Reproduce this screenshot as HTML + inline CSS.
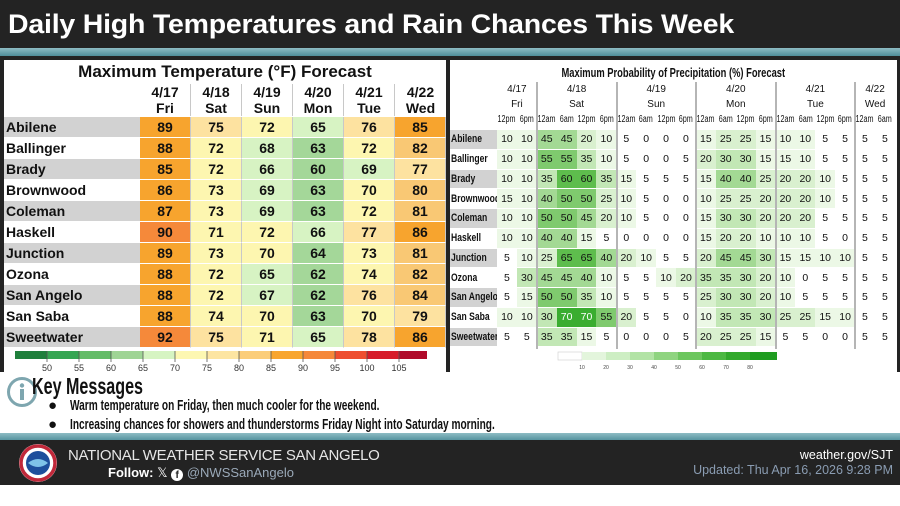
<!DOCTYPE html>
<html><head><meta charset="utf-8">
<style>
*{margin:0;padding:0;box-sizing:border-box}
body{width:900px;height:506px;overflow:hidden;background:#fff;font-family:"Liberation Sans",sans-serif;position:relative}
.abs{position:absolute}
.sx{display:inline-block;transform-origin:left center;white-space:nowrap}
#top{left:0;top:0;width:900px;height:372px;background:#232323}
#stripe1{left:0;top:48px;width:900px;height:8px;background:linear-gradient(#8dbcc4,#4f8e9a)}
#title{left:8px;top:9px;color:#fff;font-weight:bold;font-size:27px;white-space:nowrap;letter-spacing:-0.2px;transform:scaleX(1.055);transform-origin:left center}
.panel{background:#fff;top:60px;height:312px}
#lp{left:4px;width:442px}
#rp{left:450px;width:447px}
.lt{display:grid;grid-template-columns:136px repeat(6,51px);grid-auto-rows:21px;position:absolute;left:0;top:57px}
.lt div{display:flex;align-items:center;justify-content:center;font-weight:bold;font-size:14px;color:#111;border-right:1px solid #c8c8c8;border-bottom:1px solid #fff}
.lt div.nm{justify-content:flex-start;padding-left:2px;font-size:14px;border-right:none}
.g{background:#d2d2d2}
.t4{background:#a4d799}.t5{background:#d7f3c3}.t6{background:#fdf6b0}.t7{background:#fde2a0}.t8{background:#f9c874}.t9{background:#f7a42e}.t10{background:#f5893a}
.rt{display:grid;grid-template-columns:47px repeat(20,19.9px);grid-auto-rows:19.75px;position:absolute;left:0;top:70px}
.rt div{display:flex;align-items:center;justify-content:center;font-size:10.5px;color:#111;border-bottom:1px solid #fff;overflow:hidden}
.rt div.nm{justify-content:flex-start;padding-left:1px;font-weight:bold;font-size:11px}
.rt div.nm span{display:inline-block;transform:scaleX(0.78);transform-origin:left center;white-space:nowrap}
.p1{background:#ecf8e6}.p2{background:#d9f0cf}.p3{background:#c2e7b5}.p4{background:#a3d994}.p5{background:#7fca6e}.p6{background:#5ebd4d}.p7{background:#3aad30;color:#fff!important}
.sep{position:absolute;width:1.5px;background:#b5b5b5;top:22px;height:267px}
.tm div{display:flex;justify-content:center}
.tm span{display:inline-block;transform:scaleX(0.72);white-space:nowrap}
#bottom1{left:0;top:433px;width:900px;height:8px;background:linear-gradient(#8dbcc4,#4f8e9a)}
#foot{left:0;top:440px;width:900px;height:45px;background:#232323}
</style></head><body>
<div id="top" class="abs"></div>
<div id="stripe1" class="abs"></div>
<div id="title" class="abs">Daily High Temperatures and Rain Chances This Week</div>

<div id="lp" class="abs panel">
 <div class="abs" style="left:0;width:442px;top:2px;text-align:center;font-weight:bold;font-size:17px;color:#111">Maximum Temperature (°F) Forecast</div>
 <div class="abs" style="left:136px;top:24px;display:grid;grid-template-columns:repeat(6,51px);font-weight:bold;font-size:14px;text-align:center;line-height:16px;color:#111">
  <div style="border-right:1px solid #c8c8c8">4/17<br>Fri</div><div style="border-right:1px solid #c8c8c8">4/18<br>Sat</div><div style="border-right:1px solid #c8c8c8">4/19<br>Sun</div><div style="border-right:1px solid #c8c8c8">4/20<br>Mon</div><div style="border-right:1px solid #c8c8c8">4/21<br>Tue</div><div>4/22<br>Wed</div>
 </div>
 <div class="lt">
  <div class="nm g">Abilene</div><div class="t9">89</div><div class="t7">75</div><div class="t6">72</div><div class="t5">65</div><div class="t7">76</div><div class="t9">85</div>
  <div class="nm">Ballinger</div><div class="t9">88</div><div class="t6">72</div><div class="t5">68</div><div class="t4">63</div><div class="t6">72</div><div class="t8">82</div>
  <div class="nm g">Brady</div><div class="t9">85</div><div class="t6">72</div><div class="t5">66</div><div class="t4">60</div><div class="t5">69</div><div class="t7">77</div>
  <div class="nm">Brownwood</div><div class="t9">86</div><div class="t6">73</div><div class="t5">69</div><div class="t4">63</div><div class="t6">70</div><div class="t8">80</div>
  <div class="nm g">Coleman</div><div class="t9">87</div><div class="t6">73</div><div class="t5">69</div><div class="t4">63</div><div class="t6">72</div><div class="t8">81</div>
  <div class="nm">Haskell</div><div class="t10">90</div><div class="t6">71</div><div class="t6">72</div><div class="t5">66</div><div class="t7">77</div><div class="t9">86</div>
  <div class="nm g">Junction</div><div class="t9">89</div><div class="t6">73</div><div class="t6">70</div><div class="t4">64</div><div class="t6">73</div><div class="t8">81</div>
  <div class="nm">Ozona</div><div class="t9">88</div><div class="t6">72</div><div class="t5">65</div><div class="t4">62</div><div class="t6">74</div><div class="t8">82</div>
  <div class="nm g">San Angelo</div><div class="t9">88</div><div class="t6">72</div><div class="t5">67</div><div class="t4">62</div><div class="t7">76</div><div class="t8">84</div>
  <div class="nm">San Saba</div><div class="t9">88</div><div class="t6">74</div><div class="t6">70</div><div class="t4">63</div><div class="t6">70</div><div class="t7">79</div>
  <div class="nm g">Sweetwater</div><div class="t10">92</div><div class="t7">75</div><div class="t6">71</div><div class="t5">65</div><div class="t7">78</div><div class="t9">86</div>
 </div>
 <svg class="abs" style="left:0;top:288px" width="442" height="24">
  <g transform="translate(11,3)">
   <rect x="0" width="32" height="8" fill="#1f7f3c"/><rect x="32" width="32" height="8" fill="#35a552"/><rect x="64" width="32" height="8" fill="#64bc68"/><rect x="96" width="32" height="8" fill="#9fd495"/><rect x="128" width="32" height="8" fill="#d6f4c2"/><rect x="160" width="32" height="8" fill="#fdf7b2"/><rect x="192" width="32" height="8" fill="#fde5a2"/><rect x="224" width="32" height="8" fill="#fbcd7a"/><rect x="256" width="32" height="8" fill="#f8a52e"/><rect x="288" width="32" height="8" fill="#f5883a"/><rect x="320" width="32" height="8" fill="#ee4e30"/><rect x="352" width="32" height="8" fill="#d61c2a"/><rect x="384" width="28" height="8" fill="#b00a2a"/>
   <g stroke="#555" stroke-width="0.8"><line x1="32" y1="0" x2="32" y2="11"/><line x1="64" y1="0" x2="64" y2="11"/><line x1="96" y1="0" x2="96" y2="11"/><line x1="128" y1="0" x2="128" y2="11"/><line x1="160" y1="0" x2="160" y2="11"/><line x1="192" y1="0" x2="192" y2="11"/><line x1="224" y1="0" x2="224" y2="11"/><line x1="256" y1="0" x2="256" y2="11"/><line x1="288" y1="0" x2="288" y2="11"/><line x1="320" y1="0" x2="320" y2="11"/><line x1="352" y1="0" x2="352" y2="11"/><line x1="384" y1="0" x2="384" y2="11"/></g>
   <g font-size="9" fill="#333" text-anchor="middle"><text x="32" y="20">50</text><text x="64" y="20">55</text><text x="96" y="20">60</text><text x="128" y="20">65</text><text x="160" y="20">70</text><text x="192" y="20">75</text><text x="224" y="20">80</text><text x="256" y="20">85</text><text x="288" y="20">90</text><text x="320" y="20">95</text><text x="352" y="20">100</text><text x="384" y="20">105</text></g>
  </g>
 </svg>
</div>

<div id="rp" class="abs panel">
 <div class="abs" style="left:0;width:447px;top:4px;text-align:center;color:#111"><span style="display:inline-block;font-weight:bold;font-size:13px;transform:scaleX(0.72);white-space:nowrap">Maximum Probability of Precipitation (%) Forecast</span></div>
 <div class="abs" style="left:47px;top:22px;display:grid;grid-template-columns:39.8px 79.6px 79.6px 79.6px 79.6px 39.8px;font-size:10px;text-align:center;line-height:15px;color:#111">
  <div>4/17<br>Fri</div><div>4/18<br>Sat</div><div>4/19<br>Sun</div><div>4/20<br>Mon</div><div>4/21<br>Tue</div><div>4/22<br>Wed</div>
 </div>
 <div class="abs tm" style="left:47px;top:54px;display:grid;grid-template-columns:repeat(20,19.9px);font-size:10px;color:#111">
  <div><span>12pm</span></div><div><span>6pm</span></div><div><span>12am</span></div><div><span>6am</span></div><div><span>12pm</span></div><div><span>6pm</span></div><div><span>12am</span></div><div><span>6am</span></div><div><span>12pm</span></div><div><span>6pm</span></div><div><span>12am</span></div><div><span>6am</span></div><div><span>12pm</span></div><div><span>6pm</span></div><div><span>12am</span></div><div><span>6am</span></div><div><span>12pm</span></div><div><span>6pm</span></div><div><span>12am</span></div><div><span>6am</span></div>
 </div>
 <div class="rt">
  <div class="nm g"><span>Abilene</span></div><div class="p1">10</div><div class="p1">10</div><div class="p4">45</div><div class="p4">45</div><div class="p2">20</div><div class="p1">10</div><div>5</div><div>0</div><div>0</div><div>0</div><div class="p1">15</div><div class="p2">25</div><div class="p2">25</div><div class="p1">15</div><div class="p1">10</div><div class="p1">10</div><div>5</div><div>5</div><div>5</div><div>5</div>
  <div class="nm"><span>Ballinger</span></div><div class="p1">10</div><div class="p1">10</div><div class="p5">55</div><div class="p5">55</div><div class="p3">35</div><div class="p1">10</div><div>5</div><div>0</div><div>0</div><div>5</div><div class="p2">20</div><div class="p3">30</div><div class="p3">30</div><div class="p1">15</div><div class="p1">15</div><div class="p1">10</div><div>5</div><div>5</div><div>5</div><div>5</div>
  <div class="nm g"><span>Brady</span></div><div class="p1">10</div><div class="p1">10</div><div class="p3">35</div><div class="p6">60</div><div class="p6">60</div><div class="p3">35</div><div class="p1">15</div><div>5</div><div>5</div><div>5</div><div class="p1">15</div><div class="p4">40</div><div class="p4">40</div><div class="p2">25</div><div class="p2">20</div><div class="p2">20</div><div class="p1">10</div><div>5</div><div>5</div><div>5</div>
  <div class="nm"><span>Brownwood</span></div><div class="p1">15</div><div class="p1">10</div><div class="p4">40</div><div class="p5">50</div><div class="p5">50</div><div class="p2">25</div><div class="p1">10</div><div>5</div><div>0</div><div>0</div><div class="p1">10</div><div class="p2">25</div><div class="p2">25</div><div class="p2">20</div><div class="p2">20</div><div class="p2">20</div><div class="p1">10</div><div>5</div><div>5</div><div>5</div>
  <div class="nm g"><span>Coleman</span></div><div class="p1">10</div><div class="p1">10</div><div class="p5">50</div><div class="p5">50</div><div class="p4">45</div><div class="p2">20</div><div class="p1">10</div><div>5</div><div>0</div><div>0</div><div class="p1">15</div><div class="p3">30</div><div class="p3">30</div><div class="p2">20</div><div class="p2">20</div><div class="p2">20</div><div>5</div><div>5</div><div>5</div><div>5</div>
  <div class="nm"><span>Haskell</span></div><div class="p1">10</div><div class="p1">10</div><div class="p4">40</div><div class="p4">40</div><div class="p1">15</div><div>5</div><div>0</div><div>0</div><div>0</div><div>0</div><div class="p1">15</div><div class="p2">20</div><div class="p2">20</div><div class="p1">10</div><div class="p1">10</div><div class="p1">10</div><div>5</div><div>0</div><div>5</div><div>5</div>
  <div class="nm g"><span>Junction</span></div><div>5</div><div class="p1">10</div><div class="p2">25</div><div class="p6">65</div><div class="p6">65</div><div class="p4">40</div><div class="p2">20</div><div class="p1">10</div><div>5</div><div>5</div><div class="p2">20</div><div class="p4">45</div><div class="p4">45</div><div class="p3">30</div><div class="p1">15</div><div class="p1">15</div><div class="p1">10</div><div class="p1">10</div><div>5</div><div>5</div>
  <div class="nm"><span>Ozona</span></div><div>5</div><div class="p3">30</div><div class="p4">45</div><div class="p4">45</div><div class="p4">40</div><div class="p1">10</div><div>5</div><div>5</div><div class="p1">10</div><div class="p2">20</div><div class="p3">35</div><div class="p3">35</div><div class="p3">30</div><div class="p2">20</div><div class="p1">10</div><div>0</div><div>5</div><div>5</div><div>5</div><div>5</div>
  <div class="nm g"><span>San Angelo</span></div><div>5</div><div class="p1">15</div><div class="p5">50</div><div class="p5">50</div><div class="p3">35</div><div class="p1">10</div><div>5</div><div>5</div><div>5</div><div>5</div><div class="p2">25</div><div class="p3">30</div><div class="p3">30</div><div class="p2">20</div><div class="p1">10</div><div>5</div><div>5</div><div>5</div><div>5</div><div>5</div>
  <div class="nm"><span>San Saba</span></div><div class="p1">10</div><div class="p1">10</div><div class="p3">30</div><div class="p7">70</div><div class="p7">70</div><div class="p5">55</div><div class="p2">20</div><div>5</div><div>5</div><div>0</div><div class="p1">10</div><div class="p3">35</div><div class="p3">35</div><div class="p3">30</div><div class="p2">25</div><div class="p2">25</div><div class="p1">15</div><div class="p1">10</div><div>5</div><div>5</div>
  <div class="nm g"><span>Sweetwater</span></div><div>5</div><div>5</div><div class="p3">35</div><div class="p3">35</div><div class="p1">15</div><div>5</div><div>0</div><div>0</div><div>0</div><div>5</div><div class="p2">20</div><div class="p2">25</div><div class="p2">25</div><div class="p1">15</div><div>5</div><div>5</div><div>0</div><div>0</div><div>5</div><div>5</div>
 </div>
 <div class="sep" style="left:86px"></div><div class="sep" style="left:166px"></div><div class="sep" style="left:245px"></div><div class="sep" style="left:325px"></div><div class="sep" style="left:404px"></div>
 <svg class="abs" style="left:0;top:290px" width="447" height="22">
  <g transform="translate(108,2)">
   <rect x="0" width="24" height="8" fill="#fff" stroke="#ccc" stroke-width="0.6"/><rect x="24" width="24" height="8" fill="#e3f5dc"/><rect x="48" width="24" height="8" fill="#cdeec3"/><rect x="72" width="24" height="8" fill="#b2e3a5"/><rect x="96" width="24" height="8" fill="#8fd480"/><rect x="120" width="24" height="8" fill="#6cc65e"/><rect x="144" width="24" height="8" fill="#4cb842"/><rect x="168" width="24" height="8" fill="#32a92c"/><rect x="192" width="27" height="8" fill="#1f9c20"/>
   <g font-size="5" fill="#444" text-anchor="middle"><text x="24" y="17">10</text><text x="48" y="17">20</text><text x="72" y="17">30</text><text x="96" y="17">40</text><text x="120" y="17">50</text><text x="144" y="17">60</text><text x="168" y="17">70</text><text x="192" y="17">80</text></g>
  </g>
 </svg>
</div>

<svg class="abs" style="left:6px;top:376px" width="32" height="32"><circle cx="16" cy="16" r="13.5" fill="#fff" stroke="#7ea6af" stroke-width="3"/><circle cx="16" cy="9.5" r="2.2" fill="#7ea6af"/><rect x="14" y="13" width="4" height="11" fill="#7ea6af"/></svg>
<div class="abs" style="left:32px;top:373px;font-weight:bold;font-size:23px;color:#111"><span class="sx" style="transform:scaleX(0.7)">Key Messages</span></div>
<div class="abs" style="left:48px;top:396px;font-weight:bold;font-size:15px;color:#111;line-height:19px;white-space:nowrap">
 <div><span style="display:inline-block;width:22px">●</span><span class="sx" style="transform:scaleX(0.675)">Warm temperature on Friday, then much cooler for the weekend.</span></div>
 <div><span style="display:inline-block;width:22px">●</span><span class="sx" style="transform:scaleX(0.675)">Increasing chances for showers and thunderstorms Friday Night into Saturday morning.</span></div>
</div>

<div id="bottom1" class="abs"></div>
<div id="foot" class="abs">
 <svg class="abs" style="left:18px;top:3px" width="40" height="40"><circle cx="20" cy="20" r="19" fill="#fff"/><circle cx="20" cy="20" r="17" fill="none" stroke="#c0283a" stroke-width="3.5"/><circle cx="20" cy="20" r="12" fill="#1d4f9c"/><path d="M10 20 Q20 12 30 20 Q20 28 10 20Z" fill="#7ec3e8"/></svg>
 <div class="abs" style="left:68px;top:7px;color:#e6e6e6;font-size:15px;letter-spacing:-0.3px">NATIONAL WEATHER SERVICE SAN ANGELO</div>
 <div class="abs" style="left:108px;top:25px;color:#fff;font-size:13px;font-weight:bold">Follow: <span style="font-weight:normal">𝕏</span> <span style="display:inline-block;width:12px;height:12px;border-radius:6px;background:#fff;color:#232323;font-size:10px;text-align:center;line-height:13px;vertical-align:-1px">f</span> <span style="font-weight:normal;color:#9aa9b8">@NWSSanAngelo</span></div>
 <div class="abs" style="right:7px;top:8px;color:#fff;font-size:12.5px">weather.gov/SJT</div>
 <div class="abs" style="right:7px;top:23px;color:#8a9cb2;font-size:12.5px">Updated: Thu Apr 16, 2026 9:28 PM</div>
</div>
</body></html>
